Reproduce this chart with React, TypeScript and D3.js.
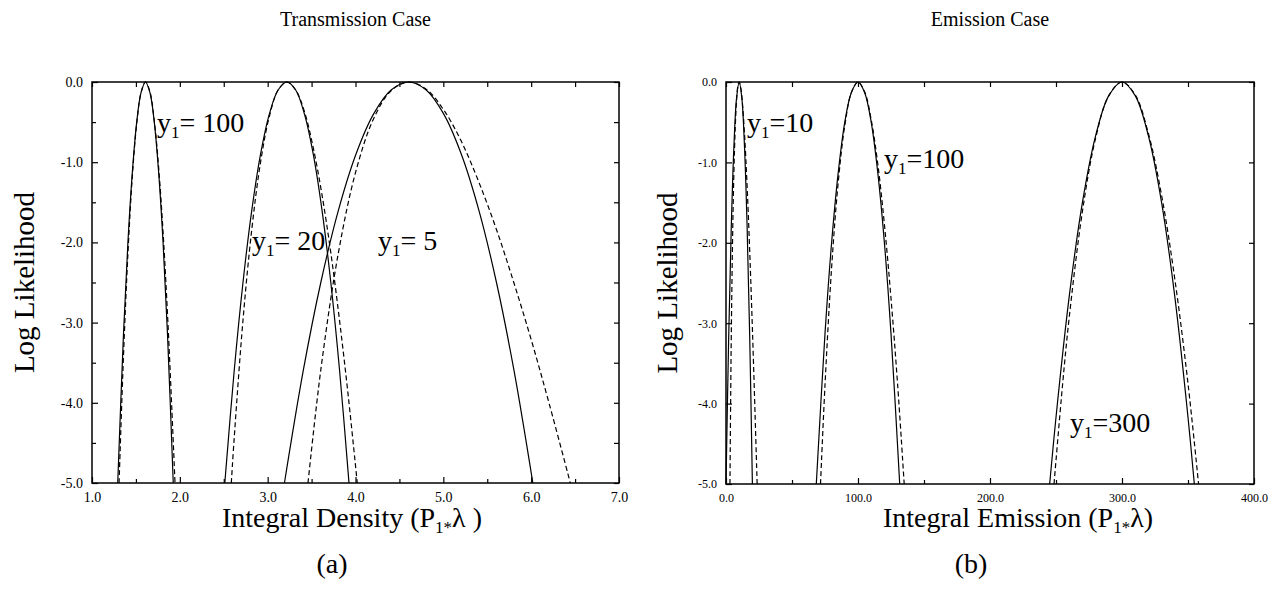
import React, { useEffect, useRef } from "react";
import * as d3 from "d3";

// log likelihood axis (shared by both panels)
const likTicks = [0, -1, -2, -3, -4, -5];
const likMinor = [-0.5, -1.5, -2.5, -3.5, -4.5];

// (a) transmission case, x = integral density
const transTicks = [1, 2, 3, 4, 5, 6, 7];
const transMinor = [1.5, 2.5, 3.5, 4.5, 5.5, 6.5];
const transNames = ["100", "20", "5"];

const t100SolidX = [1.293, 1.359, 1.409, 1.459, 1.509, 1.559, 1.609, 1.659, 1.709, 1.759, 1.809, 1.859, 1.925];
const t100SolidY = [-5.0, -3.13, -2.0, -1.13, -0.5, -0.13, 0, -0.13, -0.5, -1.13, -2.0, -3.13, -5.0];
const t100DashX = [1.308, 1.359, 1.409, 1.459, 1.509, 1.559, 1.609, 1.659, 1.709, 1.759, 1.809, 1.859, 1.909, 1.945];
const t100DashY = [-5.0, -3.4, -2.14, -1.18, -0.52, -0.13, 0, -0.12, -0.48, -1.07, -1.87, -2.88, -4.08, -5.0];

const t20SolidX = [2.512, 2.619, 2.719, 2.819, 2.919, 3.019, 3.119, 3.219, 3.319, 3.419, 3.519, 3.619, 3.719, 3.819, 3.926];
const t20SolidY = [-5.0, -3.6, -2.5, -1.6, -0.9, -0.4, -0.1, 0, -0.1, -0.4, -0.9, -1.6, -2.5, -3.6, -5.0];
const t20DashX = [2.586, 2.619, 2.719, 2.819, 2.919, 3.019, 3.119, 3.219, 3.319, 3.419, 3.519, 3.619, 3.719, 3.819, 3.919, 4.02];
const t20DashY = [-5.0, -4.44, -2.97, -1.84, -1.0, -0.43, -0.1, 0, -0.1, -0.37, -0.82, -1.41, -2.13, -2.98, -3.93, -5.0];

const t5SolidX = [3.191, 3.405, 3.605, 3.805, 4.005, 4.205, 4.405, 4.605, 4.805, 5.005, 5.205, 5.405, 5.605, 5.805, 6.019];
const t5SolidY = [-5.0, -3.6, -2.5, -1.6, -0.9, -0.4, -0.1, 0, -0.1, -0.4, -0.9, -1.6, -2.5, -3.6, -5.0];
const t5DashX = [3.459, 3.605, 3.805, 4.005, 4.205, 4.405, 4.605, 4.805, 5.005, 5.205, 5.405, 5.605, 5.805, 6.005, 6.205, 6.446];
const t5DashY = [-5.0, -3.59, -2.13, -1.11, -0.46, -0.11, 0, -0.09, -0.35, -0.74, -1.25, -1.84, -2.51, -3.23, -4.01, -5.0];

// (b) emission case, x = integral emission
const emisTicks = [0, 100, 200, 300, 400];
const emisMinor = [50, 150, 250, 350];
const emisNames = ["10", "100", "300"];

const e10SolidX = [0, 2, 4, 6, 8, 10, 12, 14, 16, 18, 20];
const e10SolidY = [-5, -3.2, -1.8, -0.8, -0.2, 0, -0.2, -0.8, -1.8, -3.2, -5];
const e10DashX = [3.0, 3.5, 4, 5, 6, 7, 8, 9, 10, 11, 12, 14, 16, 18, 20, 22, 23.6];
const e10DashY = [-5.0, -4.0, -3.16, -1.93, -1.11, -0.57, -0.23, -0.05, 0, -0.05, -0.18, -0.64, -1.3, -2.12, -3.07, -4.12, -5.0];

const e100SolidX = [68.4, 75, 80, 85, 90, 95, 100, 105, 110, 115, 120, 125, 131.6];
const e100SolidY = [-5, -3.13, -2.0, -1.13, -0.5, -0.13, 0, -0.13, -0.5, -1.13, -2.0, -3.13, -5];
const e100DashX = [71.6, 75, 80, 85, 90, 95, 100, 105, 110, 115, 120, 125, 130, 135];
const e100DashY = [-5.0, -3.77, -2.31, -1.25, -0.54, -0.13, 0, -0.12, -0.47, -1.02, -1.77, -2.69, -3.76, -5.0];

const e300SolidX = [245.2, 250, 260, 270, 280, 290, 300, 310, 320, 330, 340, 350, 354.8];
const e300SolidY = [-5, -4.17, -2.67, -1.5, -0.67, -0.17, 0, -0.17, -0.67, -1.5, -2.67, -4.17, -5];
const e300DashX = [248.5, 255, 260, 270, 280, 290, 300, 310, 320, 330, 340, 350, 358];
const e300DashY = [-5.0, -3.76, -2.93, -1.61, -0.7, -0.17, 0, -0.16, -0.64, -1.41, -2.45, -3.75, -5.0];

const serif = "'Liberation Serif', 'Times New Roman', serif";

const panels = [
  {
    title: "Transmission Case",
    caption: "(a)",
    xName: "Integral Density (P",
    xEnd: "λ )",
    xDomain: [1, 7],
    xTicks: transTicks,
    xMinor: transMinor,
    yMinor: likMinor,
    box: { left: 92, right: 619, top: 82, bottom: 483 },
    tickFont: 14,
    yLabelX: 34,
    xLabelX: 222,
    captionX: 332,
    eq: "= ",
    curves: [
      [t100SolidX, t100SolidY, false],
      [t100DashX, t100DashY, true],
      [t20SolidX, t20SolidY, false],
      [t20DashX, t20DashY, true],
      [t5SolidX, t5SolidY, false],
      [t5DashX, t5DashY, true],
    ],
    names: transNames,
    namePos: [
      [157, 132],
      [252, 250],
      [378, 250],
    ],
  },
  {
    title: "Emission Case",
    caption: "(b)",
    xName: "Integral Emission (P",
    xEnd: "λ)",
    xDomain: [0, 400],
    xTicks: emisTicks,
    xMinor: emisMinor,
    yMinor: [],
    box: { left: 726, right: 1254, top: 82, bottom: 484 },
    tickFont: 12,
    yLabelX: 677,
    xLabelX: 883,
    captionX: 971,
    eq: "=",
    curves: [
      [e10SolidX, e10SolidY, false],
      [e10DashX, e10DashY, true],
      [e100SolidX, e100SolidY, false],
      [e100DashX, e100DashY, true],
      [e300SolidX, e300SolidY, false],
      [e300DashX, e300DashY, true],
    ],
    names: emisNames,
    namePos: [
      [747, 132],
      [884, 168],
      [1070, 432],
    ],
  },
];

function drawPanel(g, p) {
  const { left, right, top, bottom } = p.box;
  const x = d3.scaleLinear().domain(p.xDomain).range([left, right]);
  const y = d3.scaleLinear().domain([-5, 0]).range([bottom, top]);
  const fmt = (d) => d.toFixed(1);

  // ticks on all four sides, pointing inwards
  const styleAxis = (a) => {
    a.select(".domain").remove();
    a.selectAll("line").attr("stroke", "#000").attr("stroke-width", 1.2);
    a.attr("font-family", serif).attr("font-size", p.tickFont);
    a.selectAll("text").attr("fill", "#000");
  };
  g.append("g")
    .attr("transform", `translate(0,${bottom})`)
    .call(d3.axisBottom(x).tickValues(p.xTicks).tickSize(-6).tickPadding(9).tickFormat(fmt))
    .call(styleAxis);
  g.append("g")
    .attr("transform", `translate(0,${bottom})`)
    .call(d3.axisBottom(x).tickValues(p.xMinor).tickSize(-4).tickFormat(() => ""))
    .call(styleAxis);
  g.append("g")
    .attr("transform", `translate(0,${top})`)
    .call(d3.axisTop(x).tickValues(p.xTicks.concat(p.xMinor)).tickSize(-5).tickFormat(() => ""))
    .call(styleAxis);
  g.append("g")
    .attr("transform", `translate(${left},0)`)
    .call(d3.axisLeft(y).tickValues(likTicks).tickSize(-6).tickPadding(9).tickFormat(fmt))
    .call(styleAxis);
  g.append("g")
    .attr("transform", `translate(${left},0)`)
    .call(d3.axisLeft(y).tickValues(p.yMinor).tickSize(-4).tickFormat(() => ""))
    .call(styleAxis);
  g.append("g")
    .attr("transform", `translate(${right},0)`)
    .call(d3.axisRight(y).tickValues(likTicks.concat(p.yMinor)).tickSize(-5).tickFormat(() => ""))
    .call(styleAxis);

  g.append("rect")
    .attr("x", left)
    .attr("y", top)
    .attr("width", right - left)
    .attr("height", bottom - top)
    .attr("fill", "none")
    .attr("stroke", "#000")
    .attr("stroke-width", 1.5);

  // curves: solid and dashed pairs
  const line = d3
    .line()
    .x((d) => x(d[0]))
    .y((d) => y(d[1]))
    .curve(d3.curveCatmullRom.alpha(0.5));
  p.curves.forEach(([xs, ys, dashed]) => {
    g.append("path")
      .attr("d", line(xs.map((v, i) => [v, ys[i]])))
      .attr("fill", "none")
      .attr("stroke", "#000")
      .attr("stroke-width", 1.2)
      .attr("stroke-dasharray", dashed ? "5,3" : null);
  });

  // curve labels y1 = ...
  p.names.forEach((n, i) => {
    const t = g
      .append("text")
      .attr("x", p.namePos[i][0])
      .attr("y", p.namePos[i][1])
      .attr("font-family", serif)
      .attr("font-size", 28);
    t.append("tspan").text("y");
    t.append("tspan").attr("font-size", 17).attr("dy", 6).text("1");
    t.append("tspan").attr("dy", -6).text(p.eq + n);
  });

  // titles
  g.append("text")
    .attr("x", (left + right) / 2)
    .attr("y", 26)
    .attr("text-anchor", "middle")
    .attr("font-family", serif)
    .attr("font-size", 20)
    .text(p.title);

  g.append("text")
    .attr("transform", `translate(${p.yLabelX},${(top + bottom) / 2}) rotate(-90)`)
    .attr("text-anchor", "middle")
    .attr("font-family", serif)
    .attr("font-size", 29)
    .text("Log Likelihood");

  const xl = g
    .append("text")
    .attr("x", p.xLabelX)
    .attr("y", 527)
    .attr("font-family", serif)
    .attr("font-size", 28);
  xl.append("tspan").text(p.xName);
  xl.append("tspan").attr("font-size", 17).attr("dy", 6).text("1*");
  xl.append("tspan").attr("dy", -6).text(p.xEnd);

  g.append("text")
    .attr("x", p.captionX)
    .attr("y", 573)
    .attr("text-anchor", "middle")
    .attr("font-family", serif)
    .attr("font-size", 28)
    .text(p.caption);
}

export default function App() {
  const ref = useRef(null);

  useEffect(() => {
    const svg = d3.select(ref.current);
    svg.selectAll("*").remove();
    svg.append("rect").attr("width", 1282).attr("height", 589).attr("fill", "#fff");
    panels.forEach((p) => drawPanel(svg.append("g"), p));
  }, []);

  return (
    <svg
      ref={ref}
      width={1282}
      height={589}
      style={{ position: "absolute", left: 0, top: 0, display: "block" }}
    />
  );
}
